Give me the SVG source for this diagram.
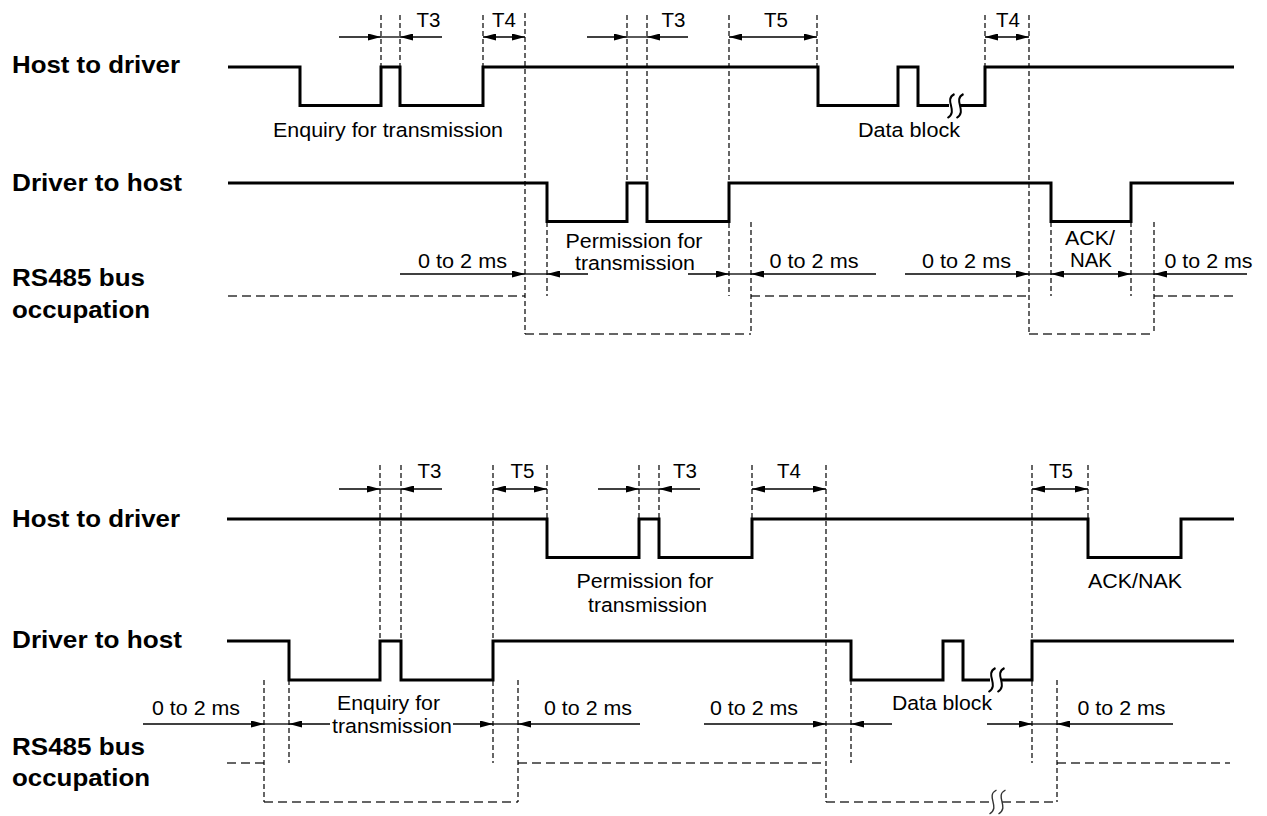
<svg xmlns="http://www.w3.org/2000/svg" width="1267" height="816" viewBox="0 0 1267 816">
<style>
text{font-family:"Liberation Sans",Arial,Helvetica,sans-serif;fill:#000}
.lbl{font-size:24px;font-weight:bold}
.t{font-size:20.5px;text-anchor:middle}
.sig{fill:none;stroke:#000;stroke-width:3;stroke-linejoin:miter}
.sq{fill:none;stroke:#000;stroke-width:2}
.sqb{fill:none;stroke:#333;stroke-width:1.4}
.v{fill:none;stroke:#000;stroke-width:1.2;stroke-dasharray:5 3}
.bus{fill:none;stroke:#333;stroke-width:1.6;stroke-dasharray:9 5}
.a{stroke:#000;stroke-width:1.3;fill:none}
.ae{marker-end:url(#ah)}
.ab{marker-start:url(#ah);marker-end:url(#ah)}
</style>
<defs>
<marker id="ah" viewBox="0 0 13 7" refX="13" refY="3.5" markerWidth="13" markerHeight="7" markerUnits="userSpaceOnUse" orient="auto-start-reverse"><path d="M0,0 L13,3.5 L0,7 z" fill="#000"/></marker>
<path id="s" d="M3.5,-12 C-8,-6 8,5 -3.5,12"/>
</defs>

<!-- ================= TOP DIAGRAM ================= -->
<g id="labels-top">
<text class="lbl" x="12" y="73" textLength="168" lengthAdjust="spacingAndGlyphs">Host to driver</text>
<text class="lbl" x="12" y="191" textLength="170" lengthAdjust="spacingAndGlyphs">Driver to host</text>
<text class="lbl" x="12" y="286" textLength="133" lengthAdjust="spacingAndGlyphs">RS485 bus</text>
<text class="lbl" x="12" y="318" textLength="138" lengthAdjust="spacingAndGlyphs">occupation</text>
</g>

<g id="host-top">
<path class="sig" d="M228,67 H300 V105.5 H381 V67 H400 V105.5 H483 V67 H818 V105.5 H898 V67 H918 V105.5 H949"/>
<path class="sig" d="M960,105.5 H985 V67 H1234"/>
<use href="#s" class="sq" x="951" y="106"/>
<use href="#s" class="sq" x="960" y="106"/>
<text class="t" x="388" y="137" textLength="230" lengthAdjust="spacingAndGlyphs">Enquiry for transmission</text>
<text class="t" x="909" y="137" textLength="102" lengthAdjust="spacingAndGlyphs">Data block</text>
</g>

<g id="driver-top">
<path class="sig" d="M228,183 H547 V221.5 H627 V183 H647 V221.5 H729 V183 H1051 V221.5 H1131 V183 H1234"/>
<text class="t" x="634" y="248" textLength="137" lengthAdjust="spacingAndGlyphs">Permission for</text>
<text class="t" x="635" y="270" textLength="120" lengthAdjust="spacingAndGlyphs">transmission</text>
<text class="t" x="1090" y="245" textLength="50" lengthAdjust="spacingAndGlyphs">ACK/</text>
<text class="t" x="1091" y="267" textLength="42" lengthAdjust="spacingAndGlyphs">NAK</text>
</g>

<g id="bus-top">
<path class="bus" d="M228,296 H525 M525,334 H751 M751,296 H1029 M1029,334 H1154 M1154,296 H1234"/>
</g>

<g id="connectors-top">
<path class="v" d="M381,15 V67 M400,15 V67 M483,15 V67 M525,13 V334 M627,15 V183 M647,15 V183 M729,15 V296 M817,15 V67 M985,15 V67 M1029,15 V334 M547,222 V296 M751,222 V334 M1051,222 V296 M1131,222 V296 M1154,222 V334"/>
<line class="a ae" x1="339" y1="37" x2="381" y2="37"/>
<line class="a" x1="381" y1="37" x2="400" y2="37"/>
<line class="a ae" x1="442" y1="37" x2="400" y2="37"/>
<line class="a ab" x1="483" y1="37" x2="525" y2="37"/>
<line class="a ae" x1="587" y1="37" x2="627" y2="37"/>
<line class="a" x1="627" y1="37" x2="647" y2="37"/>
<line class="a ae" x1="688" y1="37" x2="647" y2="37"/>
<line class="a ab" x1="729" y1="37" x2="817" y2="37"/>
<line class="a ab" x1="985" y1="37" x2="1029" y2="37"/>
<text class="t" x="428.5" y="27">T3</text>
<text class="t" x="504" y="27">T4</text>
<text class="t" x="673.5" y="27">T3</text>
<text class="t" x="776" y="27">T5</text>
<text class="t" x="1008" y="27">T4</text>
<line class="a ae" x1="400" y1="274" x2="525" y2="274"/>
<line class="a" x1="525" y1="274" x2="547" y2="274"/>
<line class="a ae" x1="588" y1="274" x2="547" y2="274"/>
<line class="a ae" x1="688" y1="274" x2="729" y2="274"/>
<line class="a" x1="729" y1="274" x2="751" y2="274"/>
<line class="a ae" x1="876" y1="274" x2="751" y2="274"/>
<line class="a ae" x1="905" y1="274" x2="1029" y2="274"/>
<line class="a" x1="1029" y1="274" x2="1051" y2="274"/>
<line class="a ab" x1="1051" y1="274" x2="1131" y2="274"/>
<line class="a" x1="1131" y1="274" x2="1154" y2="274"/>
<line class="a ae" x1="1247" y1="274" x2="1154" y2="274"/>
<text class="t" x="462.5" y="268" textLength="89" lengthAdjust="spacingAndGlyphs">0 to 2 ms</text>
<text class="t" x="814" y="268" textLength="89" lengthAdjust="spacingAndGlyphs">0 to 2 ms</text>
<text class="t" x="966.5" y="268" textLength="89" lengthAdjust="spacingAndGlyphs">0 to 2 ms</text>
<text class="t" x="1208.5" y="268" textLength="88" lengthAdjust="spacingAndGlyphs">0 to 2 ms</text>
</g>

<!-- ================= BOTTOM DIAGRAM ================= -->
<g id="labels-bottom">
<text class="lbl" x="12" y="527" textLength="168" lengthAdjust="spacingAndGlyphs">Host to driver</text>
<text class="lbl" x="12" y="648" textLength="170" lengthAdjust="spacingAndGlyphs">Driver to host</text>
<text class="lbl" x="12" y="755" textLength="133" lengthAdjust="spacingAndGlyphs">RS485 bus</text>
<text class="lbl" x="12" y="786" textLength="138" lengthAdjust="spacingAndGlyphs">occupation</text>
</g>

<g id="host-bottom">
<path class="sig" d="M227,519 H547 V557.5 H639 V519 H659 V557.5 H752 V519 H1088 V557.5 H1181 V519 H1234"/>
<text class="t" x="645" y="588" textLength="137" lengthAdjust="spacingAndGlyphs">Permission for</text>
<text class="t" x="647.5" y="611.5" textLength="119" lengthAdjust="spacingAndGlyphs">transmission</text>
<text class="t" x="1135" y="588" textLength="94" lengthAdjust="spacingAndGlyphs">ACK/NAK</text>
</g>

<g id="driver-bottom">
<path class="sig" d="M227,641 H289 V680 H380 V641 H401 V680 H493 V641 H851 V680 H943 V641 H963 V680 H990"/>
<path class="sig" d="M1001,680 H1032 V641 H1234"/>
<use href="#s" class="sq" x="992" y="680"/>
<use href="#s" class="sq" x="1001" y="680"/>
<text class="t" x="388.5" y="710" textLength="103" lengthAdjust="spacingAndGlyphs">Enquiry for</text>
<text class="t" x="392" y="733" textLength="120" lengthAdjust="spacingAndGlyphs">transmission</text>
<text class="t" x="942" y="710" textLength="100" lengthAdjust="spacingAndGlyphs">Data block</text>
</g>

<g id="bus-bottom">
<path class="bus" d="M227,763 H264 M264,802 H518 M518,763 H826 M826,802 H991 M1002,802 H1057 M1057,763 H1230"/>
<use href="#s" class="sqb" x="993" y="802"/>
<use href="#s" class="sqb" x="1002" y="802"/>
</g>

<g id="connectors-bottom">
<path class="v" d="M380,465 V641 M401,465 V641 M493,465 V763 M547,465 V519 M639,465 V519 M659,465 V519 M752,465 V519 M826,465 V802 M1032,465 V763 M1088,465 V519 M264,680 V802 M289,680 V763 M518,680 V802 M851,680 V763 M1057,680 V802"/>
<line class="a ae" x1="339" y1="489" x2="380" y2="489"/>
<line class="a" x1="380" y1="489" x2="401" y2="489"/>
<line class="a ae" x1="442" y1="489" x2="401" y2="489"/>
<line class="a ab" x1="493" y1="489" x2="547" y2="489"/>
<line class="a ae" x1="598" y1="489" x2="639" y2="489"/>
<line class="a" x1="639" y1="489" x2="659" y2="489"/>
<line class="a ae" x1="700" y1="489" x2="659" y2="489"/>
<line class="a ab" x1="752" y1="489" x2="826" y2="489"/>
<line class="a ab" x1="1032" y1="489" x2="1088" y2="489"/>
<text class="t" x="429.5" y="478">T3</text>
<text class="t" x="522.5" y="478">T5</text>
<text class="t" x="685" y="478">T3</text>
<text class="t" x="789" y="478">T4</text>
<text class="t" x="1061" y="478">T5</text>
<line class="a ae" x1="143" y1="724" x2="264" y2="724"/>
<line class="a" x1="264" y1="724" x2="289" y2="724"/>
<line class="a ae" x1="330" y1="724" x2="289" y2="724"/>
<line class="a ae" x1="453" y1="724" x2="493" y2="724"/>
<line class="a" x1="493" y1="724" x2="518" y2="724"/>
<line class="a ae" x1="640" y1="724" x2="518" y2="724"/>
<line class="a ae" x1="704" y1="724" x2="826" y2="724"/>
<line class="a" x1="826" y1="724" x2="851" y2="724"/>
<line class="a ae" x1="892" y1="724" x2="851" y2="724"/>
<line class="a ae" x1="987" y1="724" x2="1032" y2="724"/>
<line class="a" x1="1032" y1="724" x2="1057" y2="724"/>
<line class="a ae" x1="1173" y1="724" x2="1057" y2="724"/>
<text class="t" x="196" y="715" textLength="88" lengthAdjust="spacingAndGlyphs">0 to 2 ms</text>
<text class="t" x="588" y="715" textLength="88" lengthAdjust="spacingAndGlyphs">0 to 2 ms</text>
<text class="t" x="754" y="715" textLength="88" lengthAdjust="spacingAndGlyphs">0 to 2 ms</text>
<text class="t" x="1121.5" y="715" textLength="88" lengthAdjust="spacingAndGlyphs">0 to 2 ms</text>
</g>
</svg>
